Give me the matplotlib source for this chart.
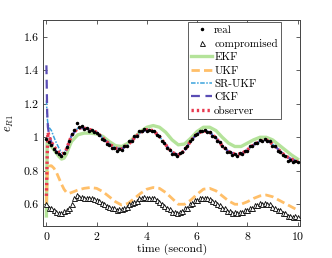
import numpy as np
import matplotlib
matplotlib.use("Agg")
import matplotlib.pyplot as plt
from matplotlib.ticker import FuncFormatter

plt.rcParams['font.family'] = 'serif'
plt.rcParams['font.serif'] = ['cmr10']
plt.rcParams['mathtext.fontset'] = 'cm'
plt.rcParams['axes.formatter.use_mathtext'] = True

# sampled measurements, one every 0.1 s
t_samples = np.linspace(0, 10, 101)
real = [0.99, 0.97, 0.955, 0.93, 0.915, 0.90, 0.89, 0.905, 0.94, 0.975,
        1.02, 1.045, 1.085, 1.06, 1.065, 1.05, 1.055, 1.04, 1.045, 1.03,
        1.025, 1.015, 0.99, 0.985, 0.96, 0.955, 0.935, 0.935, 0.92, 0.93,
        0.925, 0.945, 0.95, 0.975, 0.98, 1.005, 1.01, 1.035, 1.035, 1.05,
        1.04, 1.045, 1.035, 1.04, 1.015, 1.005, 0.975, 0.965, 0.935, 0.925,
        0.90, 0.90, 0.89, 0.905, 0.91, 0.935, 0.945, 0.98, 0.99, 1.015,
        1.02, 1.04, 1.035, 1.045, 1.03, 1.03, 1.005, 1.0, 0.975, 0.97,
        0.945, 0.935, 0.91, 0.91, 0.895, 0.90, 0.89, 0.905, 0.90, 0.92,
        0.92, 0.945, 0.945, 0.965, 0.965, 0.985, 0.98, 0.99, 0.975, 0.975,
        0.95, 0.945, 0.92, 0.915, 0.895, 0.89, 0.86, 0.865, 0.85, 0.86,
        0.855]
compromised = [0.60, 0.58, 0.575, 0.565, 0.555, 0.55, 0.55, 0.56, 0.565, 0.58,
               0.60, 0.635, 0.655, 0.645, 0.645, 0.64, 0.64, 0.635, 0.635, 0.63,
               0.625, 0.62, 0.61, 0.60, 0.59, 0.585, 0.575, 0.575, 0.565, 0.57,
               0.57, 0.58, 0.585, 0.60, 0.605, 0.615, 0.62, 0.635, 0.635, 0.645,
               0.64, 0.64, 0.635, 0.635, 0.625, 0.615, 0.60, 0.59, 0.575, 0.57,
               0.555, 0.555, 0.55, 0.555, 0.56, 0.575, 0.58, 0.60, 0.61, 0.625,
               0.625, 0.635, 0.635, 0.64, 0.635, 0.63, 0.62, 0.615, 0.60, 0.595,
               0.58, 0.575, 0.56, 0.56, 0.55, 0.555, 0.55, 0.555, 0.555, 0.565,
               0.565, 0.58, 0.58, 0.595, 0.595, 0.605, 0.60, 0.61, 0.60, 0.60,
               0.585, 0.58, 0.565, 0.565, 0.55, 0.545, 0.53, 0.53, 0.525, 0.53,
               0.525]

# estimator outputs
t_line = [0, 0.03, 0.06, 0.1, 0.15, 0.2, 0.3, 0.4, 0.5, 0.6, 0.7, 0.8, 0.9,
          1.0, 1.25, 1.5, 1.75, 2.0, 2.25, 2.5, 2.75, 3.0, 3.25, 3.5, 3.75,
          4.0, 4.25, 4.5, 4.75, 5.0, 5.25, 5.5, 5.75, 6.0, 6.25, 6.5, 6.75,
          7.0, 7.25, 7.5, 7.75, 8.0, 8.25, 8.5, 8.75, 9.0, 9.25, 9.5, 9.75, 10.0]
ekf = [0.53, 0.97, 0.975, 0.965, 0.955, 0.945, 0.925, 0.905, 0.885, 0.87, 0.875, 0.90, 0.94,
       0.975, 1.015, 1.025, 1.025, 1.02, 1.005, 0.975, 0.95, 0.945, 0.965, 1.0, 1.035,
       1.06, 1.07, 1.06, 1.03, 0.985, 0.955, 0.96, 0.995, 1.035, 1.06, 1.06, 1.04,
       1.0, 0.965, 0.945, 0.945, 0.965, 0.985, 1.0, 1.0, 0.985, 0.955, 0.925, 0.895, 0.87]
ukf = [0.60, 0.76, 0.81, 0.825, 0.83, 0.83, 0.815, 0.79, 0.755, 0.72, 0.69, 0.67, 0.665,
       0.67, 0.685, 0.695, 0.70, 0.695, 0.675, 0.645, 0.615, 0.595, 0.605, 0.635, 0.665,
       0.69, 0.70, 0.695, 0.67, 0.635, 0.60, 0.60, 0.625, 0.66, 0.69, 0.695, 0.68,
       0.65, 0.62, 0.60, 0.60, 0.615, 0.635, 0.65, 0.655, 0.645, 0.625, 0.605, 0.585, 0.565]
sr_ukf = [1.22, 1.12, 1.08, 1.06, 1.05, 1.04, 1.0, 0.965, 0.935, 0.91, 0.905, 0.93, 0.97,
          1.01, 1.055, 1.055, 1.045, 1.03, 0.995, 0.96, 0.935, 0.93, 0.955, 0.995, 1.03,
          1.045, 1.04, 1.005, 0.955, 0.91, 0.895, 0.92, 0.98, 1.02, 1.04, 1.03, 0.995,
          0.95, 0.915, 0.90, 0.90, 0.925, 0.955, 0.975, 0.985, 0.96, 0.925, 0.89, 0.87, 0.855]
ckf = [1.43, 1.15, 1.06, 1.02, 0.99, 0.97, 0.94, 0.915, 0.90, 0.89, 0.90, 0.93, 0.97,
       1.01, 1.055, 1.055, 1.045, 1.03, 0.995, 0.96, 0.935, 0.93, 0.955, 0.995, 1.03,
       1.045, 1.04, 1.005, 0.955, 0.91, 0.895, 0.92, 0.98, 1.02, 1.04, 1.03, 0.995,
       0.95, 0.915, 0.90, 0.90, 0.925, 0.955, 0.975, 0.985, 0.96, 0.925, 0.89, 0.87, 0.855]
observer = [0.65, 0.88, 1.03, 1.01, 0.99, 0.97, 0.945, 0.925, 0.91, 0.90, 0.905, 0.93, 0.97,
            1.01, 1.055, 1.055, 1.045, 1.03, 0.995, 0.96, 0.935, 0.93, 0.955, 0.995, 1.03,
            1.045, 1.04, 1.005, 0.955, 0.91, 0.895, 0.92, 0.98, 1.02, 1.04, 1.03, 0.995,
            0.95, 0.915, 0.90, 0.90, 0.925, 0.955, 0.975, 0.985, 0.96, 0.925, 0.89, 0.87, 0.855]

x_ticks = [0, 2, 4, 6, 8, 10]
y_ticks = [0.6, 0.8, 1.0, 1.2, 1.4, 1.6]

fig = plt.figure(figsize=(3.32, 2.58), dpi=100)
ax = fig.add_axes([0.13, 0.124, 0.774, 0.798])

# plot data
ax.plot(t_samples, real, 'o', color='black', markersize=1.5, label='real', zorder=6)
ax.plot(t_samples, compromised, '^', color='black', markerfacecolor='white',
        markersize=3.6, markeredgewidth=0.6, label='compromised', zorder=6)
ax.plot(t_line, ekf, '-', color='#b4e39a', linewidth=2.4, label='EKF', zorder=2)
ax.plot(t_line, ukf, '--', color='#ffbf69', linewidth=2.0, dashes=(3, 1.5), label='UKF', zorder=2)
ax.plot(t_line, sr_ukf, '-.', color='#3aa3dd', linewidth=1.1, dashes=(3, 1, 1, 1), label='SR-UKF', zorder=3)
ax.plot(t_line, ckf, '--', color='#5a4db5', linewidth=1.6, dashes=(4, 2.5), label='CKF', zorder=4)
ax.plot(t_line, observer, ':', color='#e8394f', linewidth=2.4, dashes=(0.7, 0.9), label='observer', zorder=5)

ax.set_xlim(-0.13, 10.1)
ax.set_ylim(0.47, 1.7)
ax.set_xticks(x_ticks)
ax.set_yticks(y_ticks)
ax.yaxis.set_major_formatter(FuncFormatter(lambda v, p: '%g' % v))
ax.tick_params(direction='in', top=True, right=True, labelsize=8.5, length=3,
               width=0.6, color='#444444', pad=3)
for s in ax.spines.values():
    s.set_color('#444444')
    s.set_linewidth(0.7)

ax.set_xlabel('time (second)', fontsize=8.5, labelpad=1)
ax.set_ylabel(r'$e_{R1}$', fontsize=9, labelpad=6)

leg = ax.legend(loc='upper right', bbox_to_anchor=(0.926, 0.99), fontsize=8,
                frameon=True, fancybox=False, edgecolor='#444444', framealpha=1,
                handlelength=1.9, handletextpad=0.15, labelspacing=0.32,
                borderpad=0.3, borderaxespad=0)
leg.get_frame().set_linewidth(0.6)

fig.savefig('out.png', dpi=100)
